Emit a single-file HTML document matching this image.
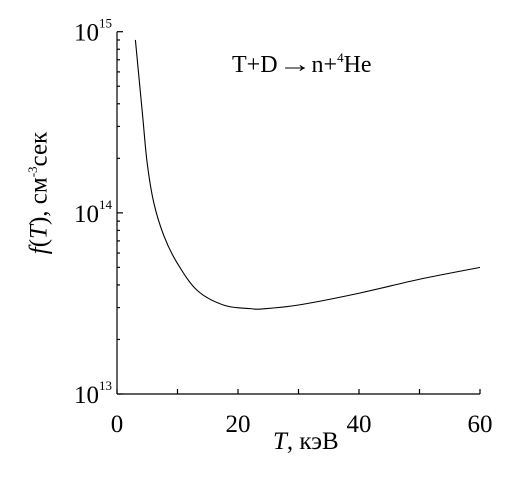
<!DOCTYPE html>
<html><head><meta charset="utf-8"><style>
body{margin:0;background:#fff}
svg{display:block;font-family:"Liberation Serif",serif}
.lbl{position:absolute;font-family:"Liberation Serif","DejaVu Serif",serif;white-space:nowrap}
</style></head><body>
<svg id="c" width="511" height="479" viewBox="0 0 511 479"></svg>
<script>
const xTicks=[0,20,40,60];
const xMinor=[10,30,50];
const tVals=[3.04,4.2,5.0,6.1,7.8,10.0,13.3,17.7,22.1,24,30,40,50,60];
const fVals=[9.0e14,3.54e14,1.87e14,1.13e14,7.4e13,5.25e13,3.72e13,3.09e13,2.96e13,2.95e13,3.1e13,3.6e13,4.3e13,5.0e13];
const yDecades=[13,14,15];
const NS="http://www.w3.org/2000/svg";
const svg=document.getElementById('c');
const X0=117,X1=480,Y0=394,Y1=31.7;
const sx=t=>X0+(t-0)/60*(X1-X0);
const sy=v=>Y0-(Math.log10(v)-13)/2*(Y0-Y1);
function el(tag,attrs,parent){const e=document.createElementNS(NS,tag);for(const k in attrs)e.setAttribute(k,attrs[k]);(parent||svg).appendChild(e);return e;}
const axes=el('g',{stroke:'#000','stroke-width':1.2,fill:'none'});


const ax=el('line',{x1:X0,y1:Y0,x2:X1,y2:Y0},axes);


const ay=el('line',{x1:X0,y1:Y0,x2:X0,y2:Y1},axes);


xTicks.concat(xMinor).forEach(t=>{const l=el('line',{x1:sx(t),y1:Y0,x2:sx(t),y2:Y0-5},axes);

});
for(let d=13;d<15;d++){for(let m=2;m<=9;m++){const y=sy(m*Math.pow(10,d));const l=el('line',{x1:X0,y1:y,x2:X0+3,y2:y},axes);

}}
yDecades.forEach(d=>{const y=sy(Math.pow(10,d));const l=el('line',{x1:X0,y1:y,x2:X0+6,y2:y},axes);


const t=el('text',{x:X0-5,y:y+9,'text-anchor':'end','font-size':25});


t.innerHTML='10<tspan dy="-13" font-size="13">'+d+'</tspan>';});
xTicks.forEach(v=>{const t=el('text',{x:sx(v),y:Y0+38,'text-anchor':'middle','font-size':25});


t.textContent=v;});
const pts=tVals.map((t,i)=>[sx(t),sy(fVals[i])]);
let d='M'+pts[0].join(',');
for(let i=0;i<pts.length-1;i++){const p0=pts[Math.max(0,i-1)],p1=pts[i],p2=pts[i+1],p3=pts[Math.min(pts.length-1,i+2)];
d+=' C'+(p1[0]+(p2[0]-p0[0])/6)+','+(p1[1]+(p2[1]-p0[1])/6)+' '+(p2[0]-(p3[0]-p1[0])/6)+','+(p2[1]-(p3[1]-p1[1])/6)+' '+p2[0]+','+p2[1];}
const c=el('path',{d:d,fill:'none',stroke:'#000','stroke-width':1.1});


</script>
<div class="lbl" style="left:232px;top:50px;font-size:24px">T+D<span style="display:inline-block;transform:scaleX(1.4);margin:0 5px">→</span>n+<sup style="font-size:13px;vertical-align:10px">4</sup>He</div>
<div class="lbl" style="left:273px;top:428px;font-size:25px"><i>T</i>, кэВ</div>
<div class="lbl" style="left:-90px;top:178px;width:260px;height:30px;text-align:center;font-size:25px;transform:rotate(-90deg)"><i>f</i>(<i>T</i>), см<sup style="font-size:13px">-3</sup>сек</div>
</body></html>
